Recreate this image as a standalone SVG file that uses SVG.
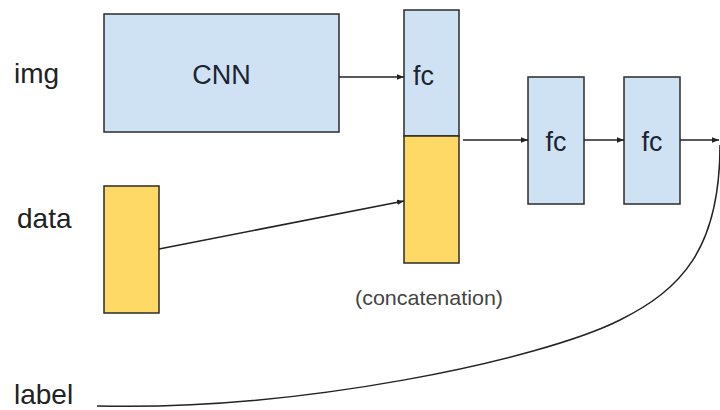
<svg xmlns="http://www.w3.org/2000/svg" width="720" height="410" viewBox="0 0 720 410">
<defs>
<style>
.blue{fill:#cfe2f3;stroke:#2b2b2b;stroke-width:1.5}
.yellow{fill:#ffd966;stroke:#2b2b2b;stroke-width:1.5}
.lbl{font-family:"Liberation Sans",Arial,sans-serif;font-size:28px;fill:#222}
.box{font-family:"Liberation Sans",Arial,sans-serif;font-size:27px;fill:#1c2530}
.note{font-family:"Liberation Sans",Arial,sans-serif;font-size:21px;fill:#444}
.conn{fill:none;stroke:#222;stroke-width:1.5}
</style>
<marker id="arr" viewBox="0 0 10 10" refX="10" refY="5" markerWidth="7" markerHeight="7" markerUnits="userSpaceOnUse" orient="auto">
<path d="M0,1 L10,5 L0,9 z" fill="#222"/>
</marker>
</defs>
<rect width="720" height="410" fill="#fff"/>
<text class="lbl" x="14" y="83">img</text>
<text class="lbl" x="17" y="228">data</text>
<text class="lbl" x="14" y="404">label</text>
<g id="cnn">
<rect class="blue" x="104" y="14" width="235" height="118"/>
<text class="box" x="221.5" y="84" text-anchor="middle">CNN</text>
</g>
<g id="data">
<rect class="yellow" x="104" y="186" width="55" height="127"/>
</g>
<g id="concat">
<rect class="blue" x="404" y="10" width="55" height="126"/>
<rect class="yellow" x="404" y="136" width="55" height="127"/>
<text class="box" x="413" y="85">fc</text>
<text class="note" x="355" y="305" textLength="148" lengthAdjust="spacingAndGlyphs">(concatenation)</text>
</g>
<g id="fc2">
<rect class="blue" x="528" y="77" width="56" height="127"/>
<text class="box" x="556" y="151" text-anchor="middle">fc</text>
</g>
<g id="fc3">
<rect class="blue" x="624" y="77" width="56" height="127"/>
<text class="box" x="652" y="151" text-anchor="middle">fc</text>
</g>
<g id="connectors">
<line class="conn" x1="339" y1="77" x2="404" y2="77" marker-end="url(#arr)"/>
<line class="conn" x1="159" y1="249" x2="404" y2="201" marker-end="url(#arr)"/>
<line class="conn" x1="463" y1="140" x2="528" y2="140" marker-end="url(#arr)"/>
<line class="conn" x1="584" y1="140" x2="624" y2="140" marker-end="url(#arr)"/>
<line class="conn" x1="680" y1="140" x2="719" y2="140" marker-end="url(#arr)"/>
<path class="conn" d="M97,406 C300,411 540,360 620,320 C680,290 720,250 720,145"/>
</g>
</svg>
